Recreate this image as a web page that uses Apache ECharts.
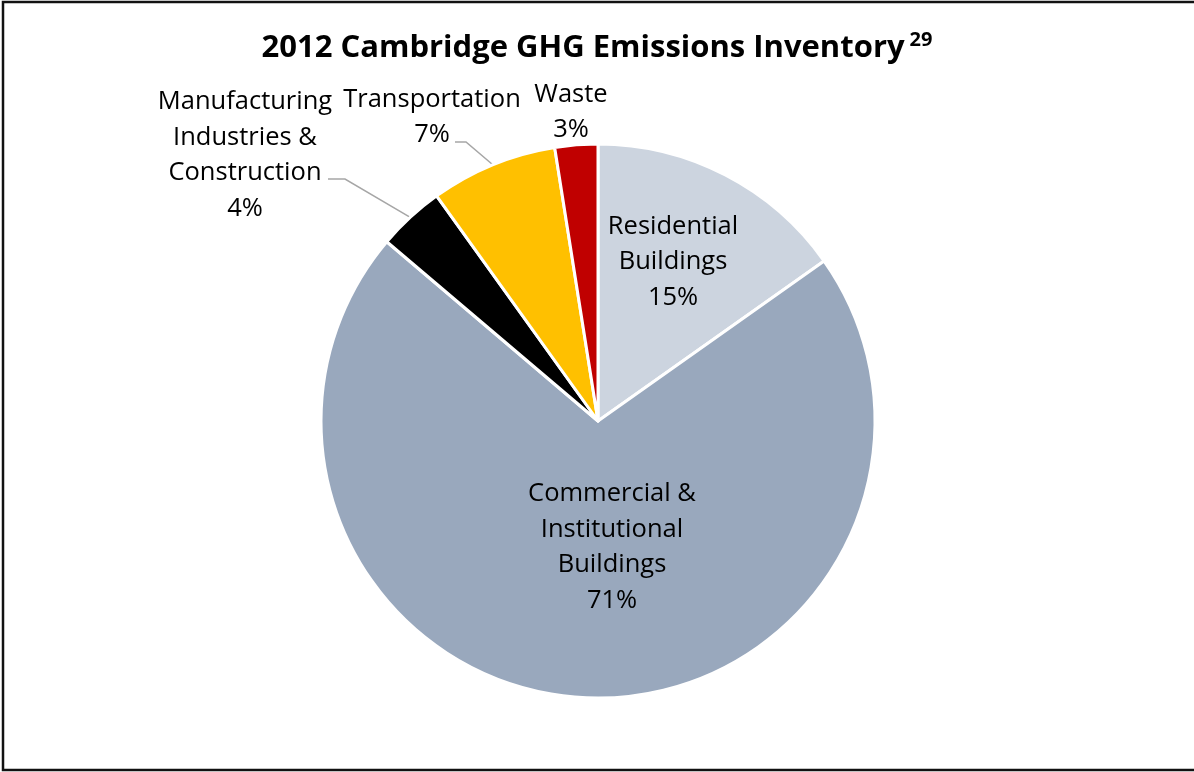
<!DOCTYPE html>
<html>
<head>
<meta charset="utf-8">
<script src="https://cdn.jsdelivr.net/npm/echarts@6/dist/echarts.min.js"></script>
<style>
  html, body { margin: 0; padding: 0; background: #fff; }
  #main { width: 1194px; height: 772px; }
</style>
</head>
<body>
<div id="main"></div>
<script>
// sector names and shares (%), clockwise from 12 o'clock
const sectors = ['Residential\nBuildings', 'Commercial &\nInstitutional\nBuildings', 'Manufacturing\nIndustries &\nConstruction', 'Transportation', 'Waste']
const shares = [15.2, 71.0, 3.9, 7.4, 2.5]
const colors = ['#ccd4df', '#99a8bd', '#000000', '#ffc000', '#c00000']

// where Excel put each label (centre of the text block)
const labelPos = [[673, 262], [612, 547], [245, 155], [432, 117], [571, 112]]
// leader line start, relative to the label centre (null = no line)
const lineStart = [null, null, [[83, 24], [100, 24]], [[23, 25], [34, 25]], null]

const chart = echarts.init(document.getElementById('main'))

const font = '"Open Sans", Lato, sans-serif'

chart.setOption({
    backgroundColor: '#fff',
    animation: false,
    title: {
        text: '{t|2012 Cambridge GHG Emissions Inventory} {s|29}',
        left: 'center',
        top: 25,
        textStyle: {
            rich: {
                t: { fontFamily: font, fontWeight: 'bold', fontSize: 31, color: '#000' },
                s: { fontFamily: font, fontWeight: 'bold', fontSize: 20, color: '#000', verticalAlign: 'top', padding: [0, 0, 16, 0] }
            }
        }
    },
    graphic: [{
        // frame is cut off on the right in the original
        type: 'polyline',
        shape: { points: [[1194, 2], [3, 2], [3, 770], [1194, 770]] },
        style: { fill: 'none', stroke: '#111', lineWidth: 2.5 },
        silent: true
    }],
    series: [{
        type: 'pie',
        center: [598, 421],
        radius: 277,
        startAngle: 90,
        clockwise: true,
        percentPrecision: 0,
        itemStyle: { borderColor: '#fff', borderWidth: 3 },
        label: {
            position: 'outside',
            formatter: (p) => p.name + '\n' + Math.round(p.percent) + '%',
            fontFamily: font,
            fontSize: 25.5,
            lineHeight: 35.5,
            color: '#000',
            align: 'center'
        },
        labelLine: {
            show: true,
            length: 20,
            length2: 15,
            lineStyle: { color: '#a6a6a6', width: 1.5 }
        },
        labelLayout: (params) => {
            const i = params.dataIndex
            const pos = labelPos[i]
            const out = { x: pos[0], y: pos[1], align: 'center', verticalAlign: 'middle' }
            if (lineStart[i] && params.labelLinePoints) {
                // keep the anchor on the slice that the pie computed
                const anchor = params.labelLinePoints[0]
                out.labelLinePoints = [
                    anchor,
                    [pos[0] + lineStart[i][1][0], pos[1] + lineStart[i][1][1]],
                    [pos[0] + lineStart[i][0][0], pos[1] + lineStart[i][0][1]]
                ]
            }
            return out
        },
        data: sectors.map((name, i) => {
            const inside = i < 2
            return {
                name: name,
                value: shares[i],
                itemStyle: { color: colors[i] },
                label: inside ? { position: 'inside' } : {},
                labelLine: { show: !!lineStart[i] }
            }
        })
    }]
})
</script>
</body>
</html>
